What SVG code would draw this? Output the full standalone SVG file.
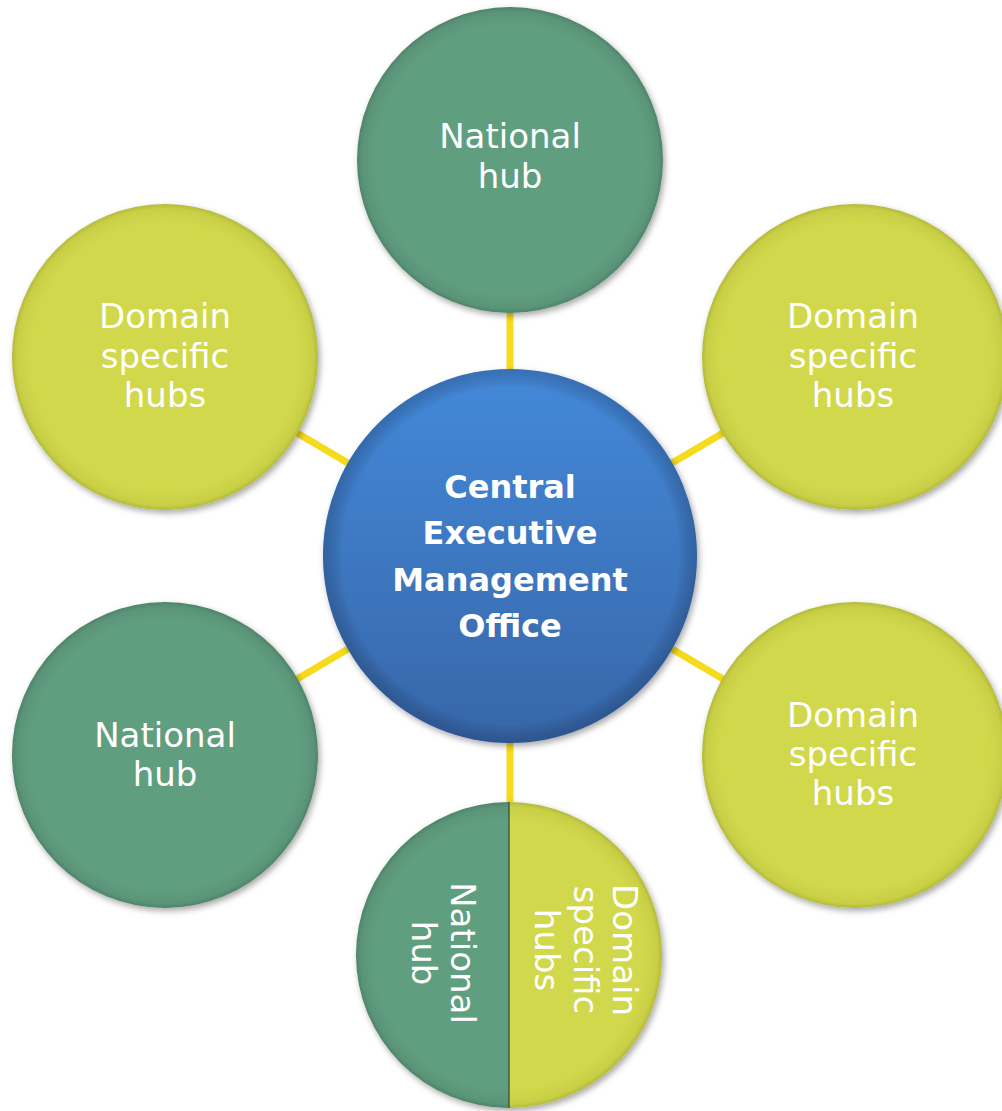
<svg xmlns="http://www.w3.org/2000/svg" width="1002" height="1111" viewBox="0 0 1002 1111">
<defs>
<radialGradient id="gGreen" cx="50%" cy="50%" r="50%">
<stop offset="0.88" stop-color="#619E80"/>
<stop offset="0.97" stop-color="#5A9478"/>
<stop offset="1" stop-color="#4E8468"/>
</radialGradient>
<radialGradient id="gYellow" cx="50%" cy="50%" r="50%">
<stop offset="0.88" stop-color="#D1D84B"/>
<stop offset="0.97" stop-color="#C8CF45"/>
<stop offset="1" stop-color="#B3BA3A"/>
</radialGradient>
<radialGradient id="gGreenSplit" gradientUnits="userSpaceOnUse" cx="509" cy="955" r="153" href="#gGreen"/>
<radialGradient id="gYellowSplit" gradientUnits="userSpaceOnUse" cx="509" cy="955" r="153" href="#gYellow"/>
<linearGradient id="gBlue" x1="0" y1="0" x2="0" y2="1">
<stop offset="0" stop-color="#4489DA"/>
<stop offset="1" stop-color="#3766A8"/>
</linearGradient>
<radialGradient id="gBlueEdge" cx="50%" cy="50%" r="50%">
<stop offset="0.9" stop-color="#000" stop-opacity="0"/>
<stop offset="1" stop-color="#102040" stop-opacity="0.25"/>
</radialGradient>
<filter id="shadow" x="-10%" y="-10%" width="125%" height="125%">
<feDropShadow dx="2" dy="3" stdDeviation="3" flood-color="#000" flood-opacity="0.35"/>
</filter>
</defs>
<style>
.conn { stroke: #F6DA1C; stroke-width: 7; fill: none; }
.lbl { font-family: "DejaVu Sans", "Liberation Sans", sans-serif; font-size: 34px; fill: #FFFFFF; text-anchor: middle; }
.lblb { font-family: "DejaVu Sans", "Liberation Sans", sans-serif; font-size: 32px; font-weight: bold; fill: #FFFFFF; text-anchor: middle; }
.green { fill: url(#gGreen); filter: url(#shadow); }
.yellow { fill: url(#gYellow); filter: url(#shadow); }
</style>
<rect width="1002" height="1111" fill="#FFFFFF"/>
<g id="connectors">
<line class="conn" x1="510" y1="313" x2="510" y2="375"/>
<line class="conn" x1="510" y1="737" x2="510" y2="802"/>
<line class="conn" x1="297" y1="433" x2="348" y2="463"/>
<line class="conn" x1="723" y1="433" x2="672" y2="463"/>
<line class="conn" x1="297" y1="679" x2="348" y2="649"/>
<line class="conn" x1="723" y1="679" x2="672" y2="649"/>
</g>
<g id="node-top-national">
<circle class="green" cx="510" cy="160" r="153"/>
<text class="lbl" x="510" y="148">National</text>
<text class="lbl" x="510" y="188">hub</text>
</g>
<g id="node-upper-left-domain">
<circle class="yellow" cx="165" cy="357" r="153"/>
<text class="lbl" x="165" y="328">Domain</text>
<text class="lbl" x="165" y="368">specific</text>
<text class="lbl" x="165" y="407">hubs</text>
</g>
<g id="node-upper-right-domain">
<circle class="yellow" cx="855" cy="357" r="153"/>
<text class="lbl" x="853" y="328">Domain</text>
<text class="lbl" x="853" y="368">specific</text>
<text class="lbl" x="853" y="407">hubs</text>
</g>
<g id="node-lower-left-national">
<circle class="green" cx="165" cy="755" r="153"/>
<text class="lbl" x="165" y="747">National</text>
<text class="lbl" x="165" y="786">hub</text>
</g>
<g id="node-lower-right-domain">
<circle class="yellow" cx="855" cy="755" r="153"/>
<text class="lbl" x="853" y="727">Domain</text>
<text class="lbl" x="853" y="766">specific</text>
<text class="lbl" x="853" y="805">hubs</text>
</g>
<g id="node-bottom-split">
<g filter="url(#shadow)">
<path d="M509,802 A153,153 0 0 0 509,1108 Z" fill="url(#gGreenSplit)"/>
<path d="M509,802 A153,153 0 0 1 509,1108 Z" fill="url(#gYellowSplit)"/>
</g>
<line x1="509" y1="802" x2="509" y2="1108" stroke="#4A5A3A" stroke-width="1.5"/>
<g transform="translate(451,953) rotate(90)">
<text class="lbl" x="0" y="0">National</text>
<text class="lbl" x="0" y="39">hub</text>
</g>
<g transform="translate(574,950) rotate(90)">
<text class="lbl" x="0" y="-39">Domain</text>
<text class="lbl" x="0" y="0">specific</text>
<text class="lbl" x="0" y="39">hubs</text>
</g>
</g>
<g id="node-center">
<circle cx="510" cy="556" r="187" fill="url(#gBlue)" filter="url(#shadow)"/>
<circle cx="510" cy="556" r="187" fill="url(#gBlueEdge)"/>
<text class="lblb" x="510" y="498">Central</text>
<text class="lblb" x="510" y="544">Executive</text>
<text class="lblb" x="510" y="591">Management</text>
<text class="lblb" x="510" y="637">Office</text>
</g>
</svg>
